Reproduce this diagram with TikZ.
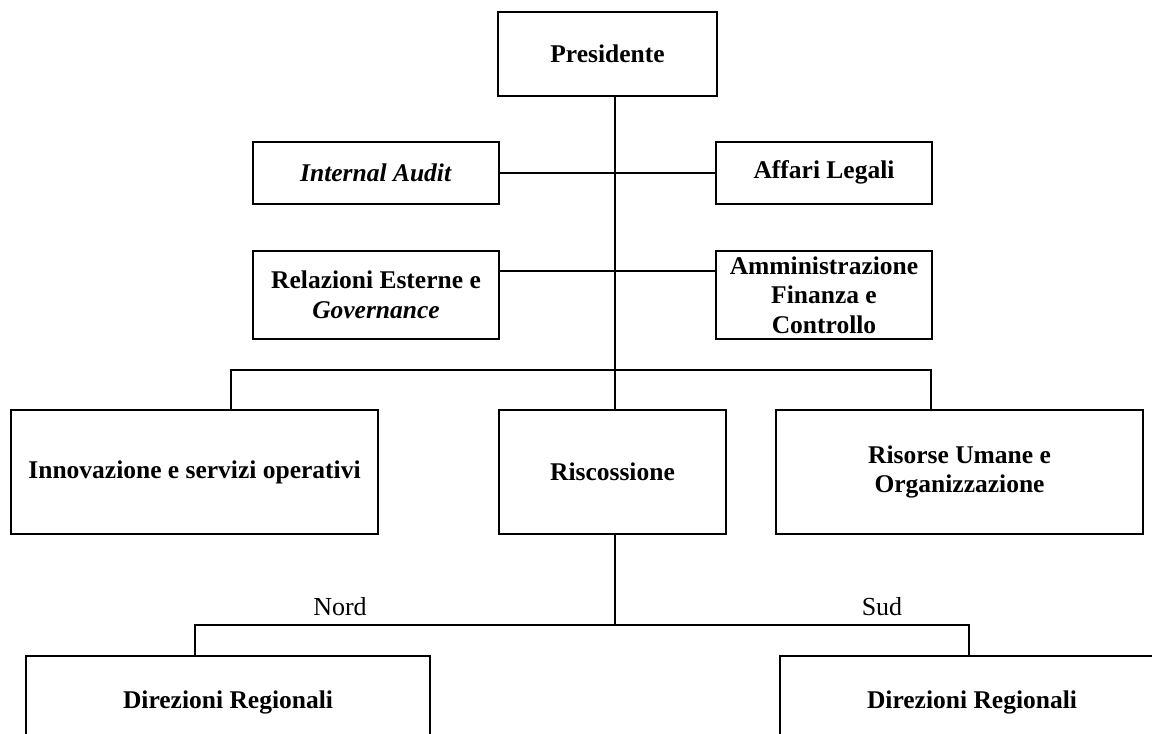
\documentclass[tikz,border=0pt]{standalone}
\usepackage{fontspec}
\setmainfont{Liberation Serif}
\begin{document}
\begin{tikzpicture}[x=1pt,y=-1pt,
  orgbox/.style={draw, line width=2.5pt, inner sep=0pt, align=center,
    font=\fontsize{25.5}{29.5}\selectfont\bfseries},
  lbl/.style={inner sep=0pt, font=\fontsize{26}{29}\selectfont},
  wire/.style={line width=2.5pt}]
\useasboundingbox (0,0) rectangle (1152,734);
\clip (0,0) rectangle (1152,734);
% boxes
\node[orgbox, minimum width=219pt, minimum height=84pt] (pres) at (607.5,54) {Presidente};
\node[orgbox, minimum width=246pt, minimum height=62pt] (audit) at (376,173) {\textit{Internal Audit}};
\node[orgbox, minimum width=216pt, minimum height=62pt] (legali) at (824,173) {\strut Affari Legali};
\node[orgbox, minimum width=246pt, minimum height=88pt] (rel) at (376,295) {Relazioni Esterne e\\ \textit{Governance}};
\node[orgbox, minimum width=216pt, minimum height=88pt] (amm) at (824,295) {Amministrazione\\Finanza e\\Controllo};
\node[orgbox, minimum width=367pt, minimum height=124pt] (innov) at (194.5,472) {Innovazione e servizi operativi};
\node[orgbox, minimum width=227pt, minimum height=124pt] (risc) at (612.5,472) {Riscossione};
\node[orgbox, minimum width=367pt, minimum height=124pt] (risorse) at (959.5,472) {Risorse Umane e\\Organizzazione};
\node[orgbox, minimum width=404pt, minimum height=92pt] (dirN) at (228,702) {Direzioni Regionali};
\node[orgbox, minimum width=384pt, minimum height=92pt] (dirS) at (972,702) {Direzioni Regionali};
% junction points
\coordinate (spine) at (615,370);
\coordinate (busL) at (231,370);
\coordinate (busR) at (931,370);
\coordinate (split) at (615,625);
\coordinate (nordC) at (195,625);
\coordinate (sudC) at (969,625);
% connectors
\draw[wire] (pres.south -| spine) -- (spine);
\draw[wire] (audit.east) -- (legali.west);
\draw[wire] ([yshift=24pt]rel.east) -- ([yshift=24pt]amm.west);
\draw[wire] (innov.north -| busL) -- (busL) -- (busR) -- (risorse.north -| busR);
\draw[wire] (spine) -- (risc.north -| spine);
\draw[wire] (risc.south -| split) -- (split);
\draw[wire] (dirN.north -| nordC) -- (nordC) -- (sudC) -- (dirS.north -| sudC);
% labels
\node[lbl] (nord) at (340,607) {Nord};
\node[lbl] (sud) at (882,607) {Sud};
\end{tikzpicture}
\end{document}
